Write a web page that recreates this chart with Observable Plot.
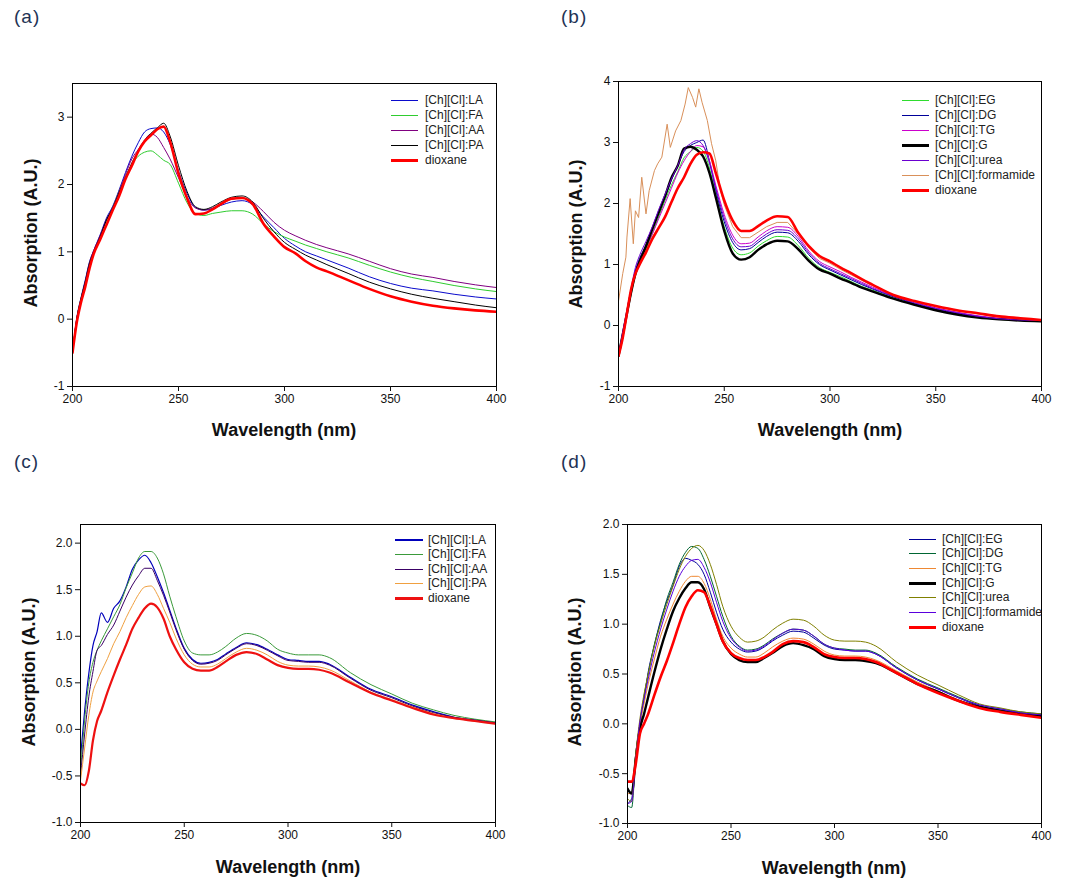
<!DOCTYPE html>
<html><head><meta charset="utf-8">
<script src="https://cdn.jsdelivr.net/npm/d3@7"></script>
<script src="https://cdn.jsdelivr.net/npm/@observablehq/plot@0.6"></script>
<style>
body{margin:0;background:#fff;}
#root{position:relative;width:1070px;height:884px;overflow:hidden;font-family:"Liberation Sans",Arial,sans-serif;background:#fff;}
.abs{position:absolute;}
.xt{font-weight:bold;font-size:18px;transform:translate(-50%,-50%);white-space:nowrap;color:#111;}
.yt{font-weight:bold;font-size:18px;transform:translate(-50%,-50%) rotate(-90deg);white-space:nowrap;color:#111;}
.pl{font-size:19px;color:#223355;transform:translateY(-50%);letter-spacing:1px;white-space:nowrap;}
.lg{font-size:12px;color:#222;transform:translateY(-50%);white-space:nowrap;}
</style></head><body><div id="root"></div>
<script>
// shared wavelength grid (nm)
const wl = [200,202,204,206,208,210,213,216,219,222,225,228,231,234,237,240,243,246,250,254,258,262,266,270,275,280,285,290,295,300,305,310,315,320,330,340,350,360,370,380,390,400];
const xTicks = [200,250,300,350,400];
const aYTicks = [-1,0,1,2,3];
const bYTicks = [-1,0,1,2,3,4];
const cYTicks = [-1,-0.5,0,0.5,1,1.5,2];
const dYTicks = [-1,-0.5,0,0.5,1,1.5,2];

// panel (a)
const aNames = ["[Ch][Cl]:LA","[Ch][Cl]:FA","[Ch][Cl]:AA","[Ch][Cl]:PA","dioxane"];
const aLA  = [-0.50,0.02,0.32,0.58,0.85,1.02,1.25,1.50,1.68,1.92,2.18,2.42,2.62,2.78,2.83,2.84,2.78,2.60,2.20,1.87,1.66,1.62,1.64,1.69,1.74,1.76,1.70,1.52,1.36,1.20,1.09,1.00,0.94,0.88,0.76,0.63,0.53,0.46,0.42,0.37,0.33,0.30];
const aFA  = [-0.50,0.00,0.30,0.55,0.83,1.00,1.22,1.46,1.66,1.90,2.12,2.30,2.42,2.48,2.50,2.44,2.36,2.30,2.02,1.73,1.57,1.54,1.57,1.59,1.61,1.61,1.56,1.42,1.30,1.22,1.16,1.10,1.05,1.00,0.91,0.80,0.70,0.62,0.56,0.50,0.45,0.41];
const aAA  = [-0.50,0.00,0.30,0.56,0.84,1.02,1.24,1.48,1.66,1.90,2.15,2.38,2.52,2.66,2.75,2.70,2.55,2.38,2.10,1.82,1.65,1.62,1.65,1.71,1.78,1.80,1.74,1.60,1.44,1.32,1.24,1.17,1.11,1.06,0.97,0.86,0.75,0.67,0.62,0.56,0.51,0.47];
const aPA  = [-0.50,0.00,0.30,0.55,0.82,1.00,1.22,1.47,1.65,1.88,2.10,2.32,2.50,2.65,2.76,2.84,2.91,2.72,2.28,1.90,1.67,1.63,1.67,1.74,1.81,1.83,1.74,1.50,1.30,1.14,1.04,0.95,0.88,0.81,0.68,0.55,0.45,0.37,0.31,0.26,0.21,0.17];
const aDiox= [-0.50,-0.05,0.25,0.48,0.75,0.97,1.18,1.40,1.62,1.83,2.08,2.28,2.49,2.64,2.73,2.82,2.86,2.64,2.16,1.80,1.56,1.57,1.63,1.71,1.79,1.80,1.71,1.42,1.23,1.07,0.98,0.86,0.77,0.71,0.58,0.45,0.34,0.26,0.20,0.16,0.13,0.11];

// panel (b)
const bNames = ["[Ch][Cl]:EG","[Ch][Cl]:DG","[Ch][Cl]:TG","[Ch][Cl]:G","[Ch][Cl]:urea","[Ch][Cl]:formamide","dioxane"];
const bEG  = [-0.50,-0.15,0.18,0.52,0.82,1.02,1.25,1.50,1.78,2.05,2.30,2.52,2.75,2.85,2.92,2.86,2.58,2.15,1.62,1.27,1.16,1.19,1.30,1.39,1.46,1.45,1.31,1.10,0.95,0.87,0.80,0.72,0.64,0.58,0.45,0.35,0.26,0.19,0.14,0.10,0.08,0.07];
const bDG  = [-0.50,-0.12,0.22,0.58,0.90,1.10,1.32,1.58,1.85,2.10,2.38,2.62,2.85,2.95,3.00,3.04,2.70,2.22,1.70,1.36,1.24,1.26,1.36,1.46,1.53,1.52,1.38,1.16,1.00,0.91,0.83,0.75,0.67,0.60,0.47,0.36,0.27,0.20,0.15,0.11,0.09,0.07];
const bTG  = [-0.50,-0.15,0.20,0.55,0.85,1.05,1.28,1.50,1.75,2.00,2.25,2.50,2.70,2.85,2.95,2.93,2.70,2.30,1.82,1.48,1.34,1.35,1.45,1.55,1.62,1.61,1.46,1.22,1.05,0.96,0.88,0.79,0.71,0.63,0.49,0.38,0.29,0.22,0.16,0.12,0.10,0.08];
const bG   = [-0.50,-0.15,0.20,0.55,0.85,1.05,1.30,1.58,1.85,2.12,2.42,2.62,2.90,2.93,2.88,2.77,2.50,2.10,1.55,1.18,1.08,1.12,1.24,1.33,1.39,1.38,1.25,1.06,0.92,0.85,0.77,0.70,0.62,0.56,0.44,0.34,0.25,0.18,0.13,0.10,0.08,0.07];
const bUrea= [-0.50,-0.10,0.25,0.62,0.95,1.15,1.38,1.62,1.90,2.15,2.40,2.62,2.88,2.98,3.03,2.95,2.66,2.25,1.76,1.42,1.29,1.30,1.40,1.50,1.57,1.56,1.42,1.19,1.02,0.93,0.85,0.77,0.69,0.61,0.48,0.37,0.28,0.21,0.15,0.11,0.09,0.08];
const bFormWl = [200,202,203.5,204,205.5,207,208,209.5,211,213,214.5,217,218.5,220.5,223,224.5,227,229.5,231.5,233,235,236.5,238,239.5,242,244,246,248,250,254,258,262,266,270,275,280,285,290,295,300,305,310,315,320,330,340,350,360,370,380,390,400];
const bForm= [0.40,0.85,1.12,1.45,2.08,1.34,1.88,1.77,2.43,1.83,2.21,2.54,2.65,2.76,3.30,2.92,3.19,3.36,3.63,3.90,3.74,3.58,3.88,3.66,3.36,2.98,2.70,2.25,1.98,1.62,1.44,1.44,1.53,1.62,1.69,1.69,1.50,1.27,1.10,1.02,0.92,0.83,0.74,0.66,0.50,0.39,0.31,0.24,0.19,0.14,0.11,0.09];
const bDiox= [-0.50,-0.20,0.20,0.60,0.85,1.00,1.20,1.42,1.60,1.78,2.02,2.25,2.43,2.65,2.80,2.84,2.82,2.50,2.05,1.72,1.55,1.55,1.63,1.72,1.79,1.78,1.52,1.30,1.14,1.05,0.95,0.86,0.76,0.67,0.50,0.40,0.32,0.25,0.20,0.15,0.12,0.09];

// panel (c)
const cNames = ["[Ch][Cl]:LA","[Ch][Cl]:FA","[Ch][Cl]:AA","[Ch][Cl]:PA","dioxane"];
const cLA  = [-0.30,0.20,0.60,0.90,1.05,1.25,1.15,1.30,1.38,1.53,1.72,1.82,1.87,1.79,1.64,1.47,1.28,1.09,0.87,0.75,0.71,0.72,0.75,0.81,0.88,0.93,0.91,0.86,0.80,0.75,0.74,0.73,0.73,0.70,0.56,0.43,0.35,0.26,0.19,0.13,0.10,0.07];
const cFA  = [-0.45,0.10,0.50,0.72,0.85,0.95,1.08,1.21,1.34,1.52,1.68,1.84,1.91,1.91,1.84,1.67,1.43,1.21,0.95,0.82,0.80,0.80,0.83,0.89,0.98,1.03,1.01,0.95,0.86,0.82,0.80,0.80,0.80,0.77,0.61,0.48,0.38,0.28,0.21,0.15,0.11,0.08];
const cAA  = [-0.50,-0.05,0.35,0.62,0.85,0.90,1.02,1.12,1.27,1.42,1.55,1.65,1.73,1.73,1.60,1.44,1.26,1.07,0.86,0.74,0.70,0.71,0.74,0.80,0.87,0.92,0.90,0.85,0.79,0.74,0.73,0.72,0.72,0.69,0.55,0.42,0.34,0.25,0.18,0.13,0.10,0.07];
const cPA  = [-0.55,-0.20,0.15,0.40,0.52,0.62,0.76,0.92,1.05,1.20,1.33,1.45,1.53,1.54,1.45,1.30,1.15,0.98,0.80,0.70,0.67,0.67,0.70,0.76,0.83,0.87,0.85,0.80,0.73,0.69,0.68,0.68,0.67,0.64,0.52,0.40,0.32,0.24,0.17,0.12,0.09,0.06];
const cDiox= [-0.58,-0.60,-0.45,-0.12,0.09,0.20,0.40,0.58,0.75,0.91,1.08,1.20,1.30,1.35,1.31,1.19,1.00,0.86,0.72,0.65,0.63,0.63,0.67,0.73,0.80,0.83,0.81,0.75,0.69,0.66,0.65,0.65,0.64,0.61,0.50,0.39,0.31,0.23,0.16,0.12,0.09,0.06];

// panel (d)
const dNames = ["[Ch][Cl]:EG","[Ch][Cl]:DG","[Ch][Cl]:TG","[Ch][Cl]:G","[Ch][Cl]:urea","[Ch][Cl]:formamide","dioxane"];
const dEG  = [-0.80,-0.75,-0.30,0.00,0.25,0.52,0.79,1.04,1.23,1.39,1.58,1.66,1.64,1.60,1.50,1.32,1.12,0.95,0.82,0.75,0.72,0.73,0.77,0.83,0.89,0.93,0.92,0.86,0.79,0.75,0.74,0.73,0.73,0.70,0.56,0.44,0.35,0.26,0.18,0.14,0.11,0.09];
const dDG  = [-0.82,-0.84,-0.35,-0.02,0.28,0.50,0.80,1.02,1.25,1.42,1.60,1.72,1.78,1.76,1.65,1.48,1.28,1.08,0.88,0.78,0.74,0.75,0.79,0.85,0.91,0.95,0.94,0.88,0.80,0.76,0.75,0.74,0.74,0.71,0.57,0.45,0.36,0.27,0.19,0.15,0.12,0.10];
const dTG  = [-0.70,-0.70,-0.30,0.00,0.20,0.40,0.65,0.88,1.05,1.20,1.33,1.43,1.48,1.48,1.41,1.25,1.05,0.88,0.76,0.70,0.67,0.67,0.71,0.77,0.83,0.86,0.85,0.80,0.73,0.69,0.68,0.68,0.67,0.64,0.53,0.42,0.33,0.24,0.17,0.13,0.10,0.08];
const dG   = [-0.65,-0.70,-0.35,-0.05,0.10,0.27,0.52,0.75,0.95,1.13,1.26,1.36,1.42,1.42,1.35,1.17,1.00,0.83,0.70,0.64,0.62,0.62,0.66,0.71,0.78,0.81,0.79,0.75,0.68,0.65,0.64,0.64,0.63,0.61,0.51,0.40,0.32,0.23,0.17,0.13,0.10,0.08];
const dUrea= [-0.75,-0.78,-0.30,0.05,0.30,0.50,0.78,1.00,1.20,1.38,1.55,1.68,1.76,1.79,1.74,1.60,1.40,1.18,0.98,0.87,0.82,0.83,0.87,0.94,1.01,1.05,1.04,0.98,0.89,0.84,0.83,0.83,0.82,0.78,0.62,0.49,0.39,0.29,0.20,0.16,0.12,0.10];
const dForm= [-0.80,-0.78,-0.35,0.02,0.25,0.45,0.72,0.95,1.15,1.33,1.48,1.58,1.64,1.65,1.57,1.42,1.22,1.03,0.86,0.77,0.73,0.74,0.78,0.84,0.91,0.95,0.94,0.88,0.80,0.76,0.74,0.73,0.73,0.70,0.56,0.44,0.35,0.26,0.19,0.15,0.11,0.09];
const dDiox= [-0.58,-0.58,-0.40,-0.10,0.00,0.10,0.29,0.47,0.63,0.81,1.00,1.17,1.28,1.34,1.32,1.18,1.00,0.83,0.71,0.66,0.64,0.64,0.67,0.72,0.80,0.83,0.82,0.77,0.70,0.67,0.66,0.66,0.65,0.62,0.51,0.40,0.31,0.23,0.16,0.12,0.09,0.06];

const intFmt = d => String(d);
const decFmt = d => d.toFixed(1);

function S(name, x, y, color, w, curve) { return {name, x, y, color, w, curve: curve || "monotone-x"}; }

const panels = [
  {left:0, top:0, width:535, height:420, mL:72, mR:39, mT:83, mB:34, yDomain:[-1,3.5], yTicks:aYTicks, fmt:intFmt,
   series:[S(aNames[0],wl,aLA,"#0a0acc",1), S(aNames[1],wl,aFA,"#2fcc2f",1), S(aNames[2],wl,aAA,"#800080",1), S(aNames[3],wl,aPA,"#000000",1), S(aNames[4],wl,aDiox,"#ff0000",2.6)],
   legend:{x1:391, x2:418, tx:425, y0:100, dy:15}, xTitle:[284,430], yTitle:[31,233], label:["(a)",14,17]},
  {left:535, top:0, width:535, height:420, mL:83, mR:29, mT:81, mB:34, yDomain:[-1,4], yTicks:bYTicks, fmt:intFmt,
   series:[S(bNames[0],wl,bEG,"#2edc2e",1), S(bNames[1],wl,bDG,"#000099",1), S(bNames[2],wl,bTG,"#cc00cc",1), S(bNames[3],wl,bG,"#000000",2.4), S(bNames[4],wl,bUrea,"#6a00d0",1), S(bNames[5],bFormWl,bForm,"#d9905a",1,"linear"), S(bNames[6],wl,bDiox,"#ff0000",2.6)],
   legend:{x1:902, x2:929, tx:935, y0:99.5, dy:15}, xTitle:[830,430], yTitle:[576,234], label:["(b)",561,17]},
  {left:0, top:442, width:535, height:420, mL:80, mR:40, mT:82, mB:40, yDomain:[-1,2.2], yTicks:cYTicks, fmt:decFmt,
   series:[S(cNames[0],wl,cLA,"#0000bb",1.2), S(cNames[1],wl,cFA,"#3a9a3a",1), S(cNames[2],wl,cAA,"#3a0066",1), S(cNames[3],wl,cPA,"#f0a040",1), S(cNames[4],wl,cDiox,"#ee1111",2.2)],
   legend:{x1:395, x2:423, tx:428, y0:539.5, dy:14.5}, xTitle:[288,867], yTitle:[29,672], label:["(c)",14,462]},
  {left:535, top:442, width:535, height:420, mL:92, mR:29, mT:82, mB:39, yDomain:[-1,2], yTicks:dYTicks, fmt:decFmt,
   series:[S(dNames[0],wl,dEG,"#000099",1), S(dNames[1],wl,dDG,"#006633",1), S(dNames[2],wl,dTG,"#ee8833",1), S(dNames[3],wl,dG,"#000000",2.4), S(dNames[4],wl,dUrea,"#808000",1), S(dNames[5],wl,dForm,"#5a00dd",1), S(dNames[6],wl,dDiox,"#ff0000",2.6)],
   legend:{x1:909, x2:936, tx:942, y0:538.5, dy:14.7}, xTitle:[834,868], yTitle:[575,672], label:["(d)",561,462]}
];

const root = document.getElementById("root");
function addDiv(cls, text, x, y, extra) {
  const d = document.createElement("div");
  d.className = "abs " + cls;
  d.textContent = text;
  d.style.left = x + "px"; d.style.top = y + "px";
  if (extra) Object.assign(d.style, extra);
  root.appendChild(d);
  return d;
}

for (const p of panels) {
  const marks = p.series.map(s => Plot.line(s.x.map((w, i) => ({w, v: s.y[i]})), {
    x: "w", y: "v", stroke: s.color, strokeWidth: s.w, curve: s.curve, clip: true
  }));
  marks.push(Plot.frame({stroke: "black", strokeWidth: 1}));
  marks.push(Plot.axisX({ticks: xTicks, tickSize: 5, tickPadding: 3, label: null, tickFormat: intFmt, fontSize: 12}));
  marks.push(Plot.axisY({ticks: p.yTicks, tickSize: 5, tickPadding: 3, label: null, tickFormat: p.fmt, fontSize: 12}));
  const svg = Plot.plot({
    width: p.width, height: p.height,
    marginLeft: p.mL, marginRight: p.mR, marginTop: p.mT, marginBottom: p.mB,
    x: {domain: [200, 400]},
    y: {domain: p.yDomain},
    style: {fontFamily: "Liberation Sans, Arial, sans-serif", fontSize: "12px", color: "#111", background: "transparent", overflow: "visible"},
    marks
  });
  svg.style.position = "absolute";
  svg.style.left = p.left + "px";
  svg.style.top = p.top + "px";
  root.appendChild(svg);

  // legend
  p.series.forEach((s, i) => {
    const y = Math.round(p.legend.y0 + i * p.legend.dy);
    const sw = s.w > 2 ? 3 : (s.w > 1.1 ? 2 : 1);
    const line = document.createElement("div");
    line.className = "abs";
    Object.assign(line.style, {left: p.legend.x1 + "px", top: Math.round(y - sw / 2) + "px", width: (p.legend.x2 - p.legend.x1) + "px", height: sw + "px", backgroundColor: s.color});
    root.appendChild(line);
    addDiv("lg", s.name, p.legend.tx, y);
  });

  addDiv("xt", "Wavelength (nm)", p.xTitle[0], p.xTitle[1]);
  addDiv("yt", "Absorption (A.U.)", p.yTitle[0], p.yTitle[1]);
  addDiv("pl", p.label[0], p.label[1], p.label[2]);
}
</script></body></html>
